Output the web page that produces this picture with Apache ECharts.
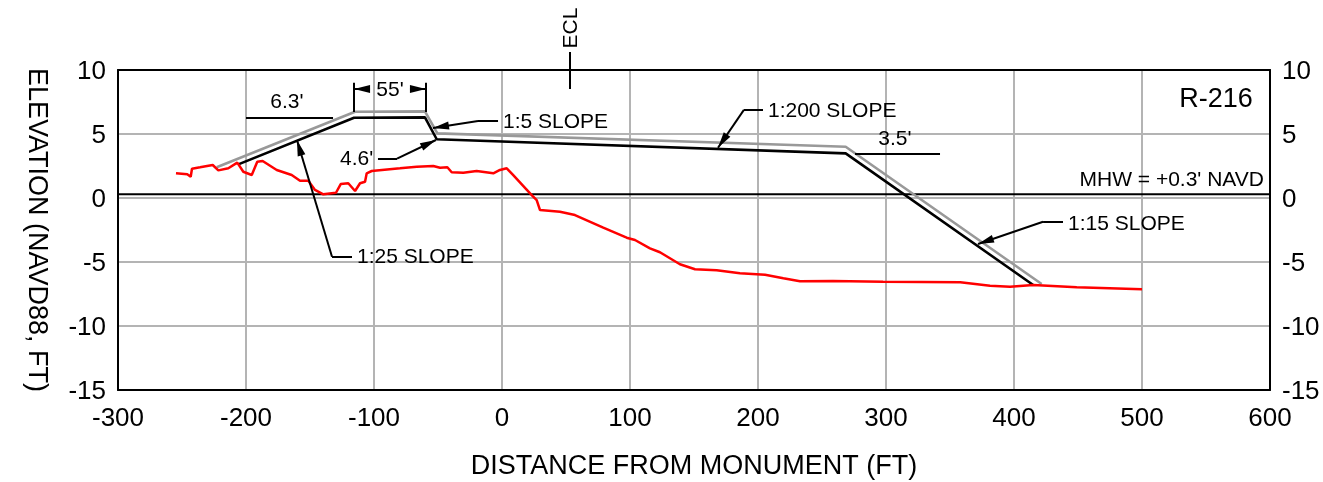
<!DOCTYPE html>
<html><head><meta charset="utf-8">
<style>html,body{margin:0;padding:0;background:#fff}#c{width:1323px;height:482px}</style>
<script src="https://cdn.jsdelivr.net/npm/echarts@6/dist/echarts.min.js"></script>
</head><body><div id="c"></div>
<script>
const xTicks = {min:-300, max:600, step:100};
const yTicks = {min:-15, max:10, step:5};
const mhw = [[-300,0.3],[600,0.3]];
const existing = [[-254.7,1.93],[-245.9,1.85],[-243.2,1.66],[-242.2,2.29],[-235.9,2.40],[-226,2.58],[-221.6,2.16],[-213.8,2.32],[-206.8,2.76],[-202.1,2.05],[-195.5,1.80],[-191.2,2.84],[-187,2.89],[-176,2.19],[-164.3,1.80],[-157.8,1.35],[-151.3,1.35],[-146.1,0.63],[-139.6,0.29],[-129.7,0.41],[-126,1.09],[-120.1,1.15],[-114.8,0.55],[-110.9,1.15],[-107,1.27],[-105.7,1.93],[-101.8,2.11],[-79.7,2.32],[-66.6,2.45],[-53.7,2.5],[-48.4,2.37],[-42.7,2.40],[-39.3,2.01],[-30.2,1.98],[-19.8,2.11],[-6.8,1.93],[-1.6,2.19],[3.7,2.32],[8.6,1.80],[23.2,0.23],[27.1,-0.16],[29.7,-0.94],[45.3,-1.07],[57,-1.33],[79.1,-2.32],[97.4,-3.10],[103.9,-3.28],[115.6,-3.93],[123.4,-4.24],[139,-5.18],[150.8,-5.57],[167.7,-5.65],[185.9,-5.88],[205.5,-5.99],[219.8,-6.27],[232.8,-6.51],[258.6,-6.48],[297.7,-6.54],[358,-6.59],[381.3,-6.85],[396.9,-6.93],[415,-6.80],[449,-6.98],[500,-7.13]];
const template = [[-206,2.63],[-115.6,6.27],[-60.2,6.3],[-51,4.59],[268.5,3.49],[415,-6.8]];
const design = [[-222.9,2.4],[-114.8,6.74],[-60.2,6.77],[-50.5,5.05],[268.5,4.0],[421.6,-6.72]];
const plainLeaders = [
  [[-115.6,9.0],[-115.6,6.72]], [[-59.4,9.0],[-59.4,6.72]],
  [[-200,6.27],[-132,6.27]], [[-3.1,6.02],[-18.75,6.02]],
  [[-96.9,3.07],[-82,3.07]], [[-117.2,-4.59],[-132.8,-4.59]],
  [[203.9,6.88],[189,6.88]], [[275.8,3.46],[342.2,3.46]],
  [[438.3,-1.85],[422.7,-1.85]], [[53.1,11.41],[53.1,8.52]]
];
const arrowLeaders = [
  [[-103.1,8.52],[-115.6,8.52]], [[-71.9,8.52],[-59.4,8.52]],
  [[-18.75,6.02],[-53.9,5.47]], [[-82,3.07],[-51.6,4.53]],
  [[-132.8,-4.59],[-160.2,4.53]], [[189,6.88],[168.75,3.93]],
  [[422.7,-1.85],[371.9,-3.59]]
];
const notes = [
  [-168,7.58,"6.3'",'center'], [-87.5,8.52,"55'",'center'],
  [0.8,6.02,"1:5 SLOPE",'left'], [-126.6,3.13,"4.6'",'left'],
  [-113.3,-4.53,"1:25 SLOPE",'left'], [207.8,6.88,"1:200 SLOPE",'left'],
  [307,4.69,"3.5'",'center'], [595.3,1.48,"MHW = +0.3' NAVD",'right'],
  [442.2,-1.95,"1:15 SLOPE",'left']
];
const stationNote = [557.8,7.81,"R-216"];
const eclNote = [53.1,13.28,"ECL"];

const FONT = '"Liberation Sans", Arial, sans-serif';
const GRID = '#b4b4b4';
const ARROW = 'path://M-20 -20L-20 -20M0 0L5 20L-5 20ZM20 20L20 20';
const labelBase = {show:true,color:'#000',opacity:1,fontFamily:FONT,position:[0,1.5],verticalAlign:'middle'};
const toLines = a => a.map(c => ({coords:c}));
const yAxisBase = {type:'value',min:yTicks.min,max:yTicks.max,interval:yTicks.step,
  axisLine:{show:true,onZero:false,lineStyle:{color:'#000',width:2}},axisTick:{show:false},
  axisLabel:{color:'#000',fontFamily:FONT,fontSize:26,margin:12,formatter:'{t|{value}}',
    rich:{t:{color:'#000',fontFamily:FONT,fontSize:26,padding:[4,0,0,0]}}},splitLine:{show:false}};
const chart = echarts.init(document.getElementById('c'),null,{renderer:'canvas'});
chart.setOption({
  animation:false,
  grid:{left:118,top:70,width:1152,height:320,containLabel:false,outerBoundsMode:'none'},
  xAxis:[
    {type:'value',position:'bottom',min:xTicks.min,max:xTicks.max,interval:xTicks.step,
     name:'DISTANCE FROM MONUMENT (FT)',nameLocation:'middle',nameGap:63,
     nameTextStyle:{color:'#000',fontFamily:FONT,fontSize:27},
     axisLine:{show:true,onZero:false,lineStyle:{color:'#000',width:2}},axisTick:{show:false},
     axisLabel:{color:'#000',fontFamily:FONT,fontSize:26,margin:16},
     splitLine:{show:true,lineStyle:{color:GRID,width:2}}},
    {type:'value',position:'top',min:xTicks.min,max:xTicks.max,interval:xTicks.step,
     axisLine:{show:true,onZero:false,lineStyle:{color:'#000',width:2}},axisTick:{show:false},
     axisLabel:{show:false},splitLine:{show:false}}
  ],
  yAxis:[
    Object.assign({},yAxisBase,{position:'left',
      name:'ELEVATION (NAVD88, FT)',nameLocation:'middle',nameGap:68,nameRotate:-90,
      nameTextStyle:{color:'#000',fontFamily:FONT,fontSize:27},
      splitLine:{show:true,lineStyle:{color:GRID,width:2}}}),
    Object.assign({},yAxisBase,{position:'right'})
  ],
  series:[
    {type:'line',data:mhw,showSymbol:false,z:3,lineStyle:{color:'#000',width:2}},
    {type:'line',data:design,showSymbol:false,z:3,lineStyle:{color:'#999',width:2.6}},
    {type:'line',data:template,showSymbol:false,z:4,lineStyle:{color:'#000',width:2.6}},
    {type:'line',data:existing,showSymbol:false,z:5,lineStyle:{color:'#f00',width:2.5}},
    {type:'lines',coordinateSystem:'cartesian2d',clip:false,z:6,data:toLines(plainLeaders),
     symbol:['none','none'],lineStyle:{color:'#000',width:2,opacity:1,curveness:0}},
    {type:'lines',coordinateSystem:'cartesian2d',clip:false,z:6,data:toLines(arrowLeaders),
     symbol:['none',ARROW],symbolSize:32,lineStyle:{color:'#000',width:2,opacity:1,curveness:0}},
    {type:'scatter',symbolSize:0,clip:false,z:7,silent:true,itemStyle:{opacity:1},data:[
      ...notes.map(n=>({value:[n[0],n[1]],label:Object.assign({},labelBase,{formatter:n[2],align:n[3],fontSize:21})})),
      {value:[stationNote[0],stationNote[1]],label:Object.assign({},labelBase,{formatter:stationNote[2],align:'center',fontSize:27})},
      {value:[eclNote[0],eclNote[1]],label:Object.assign({},labelBase,{formatter:eclNote[2],align:'center',rotate:90,fontSize:21,position:[1,0]})}
    ]}
  ]
});
</script></body></html>
